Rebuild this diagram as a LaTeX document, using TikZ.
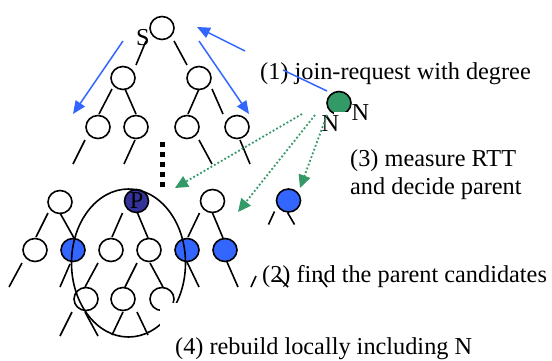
\documentclass[tikz,border=0pt]{standalone}
\usepackage{fontspec}
\setmainfont{Liberation Serif}
\usetikzlibrary{shapes.geometric,arrows.meta,calc}
\definecolor{nodeblue}{HTML}{3366FF}
\definecolor{navyfill}{HTML}{333399}
\definecolor{ngreen}{HTML}{339966}
\definecolor{arrblue}{HTML}{3366FF}
\begin{document}
\begin{tikzpicture}[x=1pt,y=-1pt,
  nd/.style={ellipse,draw,line width=1.6pt,minimum width=24pt,minimum height=23pt,inner sep=0pt,fill=white},
  ln/.style={line width=1.6pt},
  lbl/.style={anchor=base west,inner sep=0pt,font=\fontsize{24.3}{28}\selectfont},
  barrow/.style={draw=arrblue,line width=1.5pt,-{Triangle[length=13pt,width=11pt]}},
  bline/.style={draw=arrblue,line width=1.5pt},
  garrow/.style={draw=ngreen,line width=1.8pt,dash pattern=on 1.8pt off 2.2pt,-{Triangle[length=13pt,width=12pt]}}]
\fill[white] (0,0) rectangle (552,360);
\useasboundingbox (0,0) rectangle (552,360);
% top tree nodes
\node[nd] (S) at (162,28) {};
\node[nd] (L1) at (123,78) {};
\node[nd] (R1) at (199,78) {};
\node[nd] (L2a) at (98,127) {};
\node[nd] (L2b) at (136,127) {};
\node[nd] (R2a) at (187,127) {};
\node[nd] (R2b) at (237,127) {};
% bottom tree nodes
\node[nd] (A1) at (60,202) {};
\node[nd,fill=navyfill] (P) at (136.5,201) {};
\node[nd] (A3) at (212.5,201) {};
\node[nd] (B1) at (35,250) {};
\node[nd,fill=nodeblue] (B2) at (73,250) {};
\node[nd] (B3) at (111,250) {};
\node[nd] (B4) at (149,250) {};
\node[nd,fill=nodeblue] (B5) at (187,250) {};
\node[nd,fill=nodeblue] (B6) at (225,250) {};
\node[nd] (C1) at (86,299) {};
\node[nd] (C2) at (123,299) {};
\node[nd] (C3) at (162,299) {};
\node[nd,fill=nodeblue] (Q) at (288.5,200.5) {};
\node[nd,fill=ngreen] (N) at (339,103) {};
% top tree edges
\draw[ln] ($(S)+(-16,13)$) -- ($(L1)+(13,-13)$);
\draw[ln] ($(S)+(12,13)$) -- ($(R1)+(-12,-13)$);
\draw[ln] ($(L1)+(-11,11)$) -- ($(L2a)+(1,-13)$);
\draw[ln] ($(L1)+(2,11)$) -- ($(L2b)+(0,-13)$);
\draw[ln] ($(R1)+(0,11)$) -- ($(R2a)+(1,-13)$);
\draw[ln] ($(R1)+(13,11)$) -- ($(R2b)+(-14,-13)$);
\draw[ln] ($(L2a)+(-13,13)$) -- ++(-12,24);
\draw[ln] ($(L2b)+(-1,13)$) -- ++(-11,24);
\draw[ln] ($(R2a)+(12,13)$) -- ++(13,24);
\draw[ln] ($(R2b)+(3,13)$) -- ++(10,24);
% vertical dots
\foreach \yy in {142,152,...,182} \fill (159.5,\yy) rectangle ++(5,5);
% bottom tree edges
\draw[ln] ($(A1)+(-12,11)$) -- ($(B1)+(1,-13)$);
\draw[ln] ($(A1)+(0,11)$) -- ($(B2)+(1,-12)$);
\draw[ln] ($(P)+(-14,12)$) -- ($(B3)+(1,-13)$);
\draw[ln] ($(P)+(1,12)$) -- ($(B4)+(-1,-12)$);
\draw[ln] ($(A3)+(-13,12)$) -- ($(B5)+(1,-13)$);
\draw[ln] ($(A3)+(0,12)$) -- ($(B6)+(-2,-12)$);
\draw[ln] ($(B1)+(-13,13)$) -- ++(-13,24);
\draw[ln] ($(B2)+(-3,14)$) -- ++(-10,23);
\draw[ln] ($(B3)+(-13,13)$) -- ($(C1)+(-1,-12)$);
\draw[ln] ($(B4)+(-12,13)$) -- ($(C2)+(2,-12)$);
\draw[ln] ($(B4)+(1,13)$) -- ($(C3)+(1,-12)$);
\draw[ln] ($(B5)+(0,12)$) -- ++(12,25);
\draw[ln] ($(B6)+(2,12)$) -- ++(11,25);
\draw[ln] ($(C1)+(-14,13)$) -- ++(-12,24);
\draw[ln] ($(C1)+(-1,13)$) -- ++(13,24);
\draw[ln] ($(C2)+(0,13)$) -- ++(-11,23);
\draw[ln] ($(C2)+(14,13)$) -- ++(11,23);
\draw[ln] ($(Q)+(-14,11)$) -- ++(-6,13);
\draw[ln] ($(Q)+(-1,12)$) -- ++(7,12);
% local group ellipse
\node[ellipse,draw,line width=1.6pt,minimum width=114pt,minimum height=148pt,inner sep=0pt] (grp) at (128.5,263) {};
% white box of label (4)
\fill[white] (160,303) rectangle (552,365);
% labels
\node[lbl] (lS) at (136,45) {S};
\node[lbl,anchor=base] (lP) at (136.7,208) {P};
\fill[white] (334,111.7) rectangle (352,116);
\node[lbl] (lN1) at (351.5,120) {N};
\node[lbl] (lN2) at (321.5,131.7) {N};
\node[lbl] (t1) at (260,79) {(1) join-request with degree};
\node[lbl] (t3a) at (350,166) {(3) measure RTT};
\node[lbl] (t3b) at (350,194) {and decide parent};
\node[lbl] (t2) at (262,282) {(2) find the parent candidates};
\node[lbl] (t4) at (175,354) {(4) rebuild locally including N};
% stray edges over label (2)
\coordinate (s1a) at (256,276); \coordinate (s1b) at (251,287);
\coordinate (s2a) at (277,276); \coordinate (s2b) at (288,287);
\coordinate (s3a) at (319,277); \coordinate (s3b) at (327,287);
\draw[ln] (s1a) -- (s1b);
\draw[ln] (s2a) -- (s2b);
\draw[ln] (s3a) -- (s3b);
% blue arrows
\draw[barrow] ($(S)+(-39,13)$) -- ($(L2a)+(-25,-13)$);
\draw[barrow] ($(S)+(37,13)$) -- ($(R2b)+(12,-13)$);
\coordinate (jr) at (283,70);
\draw[bline] ($(N)+(-12,-12)$) -- (jr);
\draw[barrow] ($(S)+(83,23)$) -- ($(S)+(35,-1)$);
% green arrows
\draw[garrow] ($(N)+(-37,11)$) -- ($(P)+(38.5,-13)$);
\draw[garrow] ($(N)+(-24,12)$) -- ($(A3)+(25.5,11)$);
\draw[garrow] ($(N)+(-12,12)$) -- ($(Q)+(11.5,-12.5)$);
\end{tikzpicture}
\end{document}
